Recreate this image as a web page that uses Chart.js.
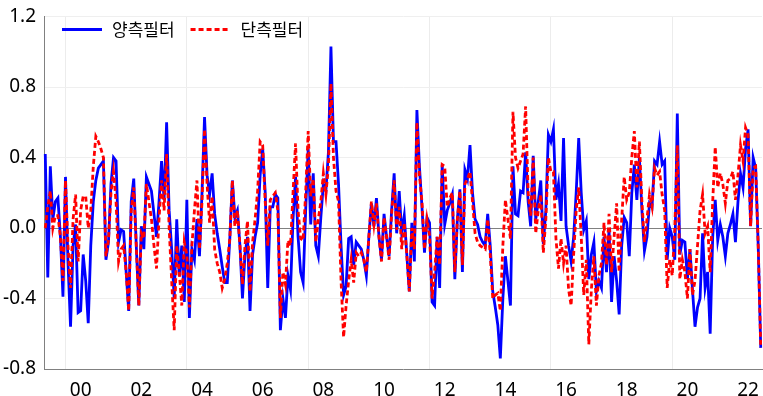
<!DOCTYPE html>
<html>
<head>
<meta charset="utf-8">
<script src="https://cdn.jsdelivr.net/npm/chart.js@4"></script>
<style>
  html, body { margin: 0; padding: 0; background: #fff; }
  #wrap { width: 763px; height: 396px; }
</style>
</head>
<body>
<div id="wrap"><canvas id="chart"></canvas></div>
<script>
// --- Data (monthly, 1999-05 .. 2022-12) ---
const START_YEAR = 1999;
const START_MONTH = 5;

const seriesNames = ['양측필터', '단측필터'];

// two-sided filter (blue, solid)
const twoSided = [
    0.42, -0.28, 0.35, 0.05, 0.15, 0.17, -0.05, -0.39,                       // 1999
    0.29, -0.20, -0.56, -0.10, 0.02, -0.48, -0.47, -0.15, -0.30, -0.54, -0.10, 0.15, // 2000
    0.27, 0.34, 0.36, 0.38, -0.18, -0.08, 0.25, 0.40, 0.38, -0.08, -0.01, -0.02,    // 2001
    -0.25, -0.47, 0.15, 0.28, -0.10, -0.44, 0.01, -0.12, 0.29, 0.25, 0.21, 0.08,    // 2002
    -0.05, 0.15, 0.38, 0.16, 0.60, 0.10, -0.12, -0.40, 0.05, -0.27, -0.10, -0.42,   // 2003
    0.16, -0.51, -0.12, -0.18, 0.05, -0.16, 0.20, 0.63, 0.30, 0.19, 0.31, 0.08,     // 2004
    -0.03, -0.12, -0.22, -0.31, -0.31, -0.06, 0.27, 0.06, 0.10, -0.10, -0.40, -0.15, // 2005
    -0.05, -0.47, -0.15, -0.05, 0.03, 0.30, 0.45, 0.20, -0.34, 0.12, 0.12, 0.19,    // 2006
    0.17, -0.58, -0.40, -0.51, -0.27, -0.35, 0.05, 0.29, -0.05, -0.25, -0.31, 0.10, // 2007
    0.45, 0.02, 0.31, -0.10, -0.16, 0.06, 0.25, 0.21, 0.43, 1.03, 0.49, 0.49,       // 2008
    0.25, -0.10, -0.38, -0.33, -0.06, -0.05, -0.21, -0.08, -0.10, -0.12, -0.18, -0.27, // 2009
    -0.05, 0.14, 0.01, 0.17, -0.05, -0.18, 0.08, -0.05, -0.16, 0.10, 0.31, -0.03,   // 2010
    0.21, -0.03, 0.07, -0.15, -0.36, 0.03, -0.19, 0.67, 0.35, 0.12, -0.14, 0.06,    // 2011
    0.03, -0.42, -0.44, -0.05, -0.34, 0.36, 0.02, 0.10, 0.14, 0.19, -0.29, 0.05,    // 2012
    0.22, -0.25, 0.33, 0.28, 0.47, 0.20, 0.05, 0.02, -0.05, -0.08, -0.10, 0.08,     // 2013
    -0.10, -0.36, -0.45, -0.55, -0.74, -0.40, -0.16, -0.30, -0.44, 0.35, 0.08, 0.07, // 2014
    0.21, 0.20, 0.43, 0.15, 0.01, 0.41, 0.05, 0.15, 0.27, -0.09, 0.10, 0.53,        // 2015
    0.49, 0.56, 0.16, 0.25, 0.04, 0.51, 0.01, -0.10, -0.19, -0.05, 0.20, 0.51,      // 2016
    0.20, -0.01, 0.04, -0.29, -0.15, -0.08, -0.36, -0.30, -0.34, -0.05, -0.25, -0.01, // 2017
    -0.42, -0.16, -0.30, -0.49, -0.10, 0.06, 0.03, -0.16, 0.20, 0.36, 0.16, 0.40,   // 2018
    0.10, -0.13, -0.05, 0.14, 0.12, 0.38, 0.36, 0.49, 0.36, 0.38, -0.18, 0.00,      // 2019
    -0.05, -0.18, 0.65, -0.15, -0.07, -0.08, -0.29, -0.12, -0.35, -0.56, -0.45, -0.40, // 2020
    -0.03, -0.34, -0.25, -0.60, -0.05, 0.16, -0.07, 0.02, -0.05, -0.16, -0.03, 0.02, // 2021
    0.08, -0.08, 0.15, 0.31, 0.23, 0.45, 0.56, 0.01, 0.40, 0.34, -0.10, -0.68       // 2022
];

// one-sided filter (red, dashed)
const oneSided = [
    0.00, 0.12, 0.21, 0.00, 0.07, 0.07, -0.05, -0.30,                       // 1999
    0.27, -0.10, -0.34, 0.05, 0.19, -0.19, 0.10, 0.18, 0.18, 0.00, 0.10, 0.35,      // 2000
    0.52, 0.49, 0.45, 0.40, -0.16, -0.07, 0.20, 0.32, 0.15, -0.19, -0.12, -0.10,    // 2001
    -0.25, -0.47, 0.10, 0.23, -0.10, -0.44, -0.03, -0.06, 0.25, 0.15, 0.05, -0.10,  // 2002
    -0.23, 0.05, 0.27, 0.10, 0.42, 0.00, -0.30, -0.58, -0.10, -0.25, -0.44, -0.08,  // 2003
    -0.15, -0.45, -0.10, 0.10, 0.27, -0.12, 0.15, 0.56, 0.25, 0.03, 0.18, -0.12,    // 2004
    -0.20, -0.25, -0.34, -0.29, -0.20, -0.06, 0.27, 0.01, 0.10, -0.10, -0.32, -0.10, // 2005
    0.04, -0.36, -0.08, 0.05, 0.21, 0.49, 0.47, 0.15, -0.10, 0.16, 0.18, 0.20,      // 2006
    0.10, -0.51, -0.25, -0.32, -0.07, -0.10, 0.20, 0.48, 0.10, -0.06, -0.07, 0.20,  // 2007
    0.55, 0.18, 0.28, -0.08, 0.05, 0.15, 0.31, 0.19, 0.35, 0.82, 0.40, 0.21,        // 2008
    0.15, -0.30, -0.62, -0.44, -0.30, -0.18, -0.31, -0.14, -0.16, -0.14, -0.18, -0.25, // 2009
    -0.05, 0.15, 0.02, 0.14, -0.05, -0.19, 0.06, -0.05, -0.18, 0.08, 0.27, -0.01,   // 2010
    0.12, -0.12, 0.03, -0.15, -0.36, 0.00, -0.12, 0.60, 0.30, 0.15, -0.12, 0.05,    // 2011
    -0.04, -0.40, -0.25, -0.05, -0.21, 0.36, 0.35, 0.12, 0.17, 0.20, -0.25, 0.05,   // 2012
    0.21, -0.21, 0.25, 0.28, 0.32, 0.15, -0.03, -0.08, -0.10, -0.11, -0.12, 0.05,   // 2013
    -0.15, -0.40, -0.38, -0.37, -0.47, -0.10, 0.16, 0.05, -0.06, 0.66, 0.40, 0.34,  // 2014
    0.38, 0.42, 0.69, 0.20, 0.07, 0.40, -0.03, 0.10, 0.19, -0.14, 0.05, 0.40,       // 2015
    0.32, 0.32, -0.06, -0.23, -0.06, -0.20, -0.10, -0.35, -0.44, -0.15, 0.10, 0.23, // 2016
    -0.05, -0.38, -0.18, -0.66, -0.35, -0.16, -0.44, -0.27, -0.20, 0.03, -0.21, 0.08, // 2017
    -0.25, -0.05, 0.14, -0.25, 0.05, 0.29, 0.16, 0.20, 0.40, 0.55, 0.23, 0.49,      // 2018
    0.15, -0.08, 0.05, 0.19, 0.12, 0.34, 0.30, 0.32, 0.19, 0.10, -0.34, -0.18,      // 2019
    -0.27, 0.00, 0.47, -0.29, -0.18, -0.25, -0.40, -0.12, -0.38, -0.30, -0.10, 0.10, // 2020
    0.19, -0.03, 0.01, -0.25, 0.15, 0.46, 0.23, 0.31, 0.25, 0.14, 0.27, 0.28,       // 2021
    0.32, 0.16, 0.30, 0.47, 0.38, 0.57, 0.53, 0.01, 0.34, 0.35, -0.10, -0.68        // 2022
];

const Y_MIN = -0.8, Y_MAX = 1.2, Y_STEP = 0.4;

// month labels 'YYYY-MM'
const months = twoSided.map((_, i) => {
    const m = START_MONTH - 1 + i;
    const y = START_YEAR + Math.floor(m / 12);
    return `${y}-${String(m % 12 + 1).padStart(2, '0')}`;
});

// legend drawn inside the plot, top-left
const insideLegend = {
    id: 'insideLegend',
    afterDraw(chart, args, opts) {
        const { ctx, chartArea } = chart;
        let x = chartArea.left + opts.offsetX;
        const y = chartArea.top + opts.offsetY;
        ctx.save();
        ctx.font = opts.font;
        ctx.textBaseline = 'middle';
        chart.data.datasets.forEach(ds => {
            ctx.beginPath();
            ctx.strokeStyle = ds.borderColor;
            ctx.lineWidth = 3;
            ctx.setLineDash(ds.borderDash || []);
            ctx.moveTo(x, y);
            ctx.lineTo(x + opts.lineLength, y);
            ctx.stroke();
            ctx.setLineDash([]);
            ctx.fillStyle = '#000';
            ctx.fillText(ds.label, x + opts.lineLength + opts.gap, y);
            x += opts.lineLength + opts.gap + ctx.measureText(ds.label).width + opts.spacing;
        });
        ctx.restore();
    }
};

const ctx = document.getElementById('chart').getContext('2d');
new Chart(ctx, {
    type: 'line',
    data: {
        labels: months,
        datasets: [{
            label: seriesNames[0],
            data: twoSided,
            borderColor: '#0000FF',
            borderWidth: 2.8,
            pointRadius: 0,
            tension: 0,
            order: 1
        }, {
            label: seriesNames[1],
            data: oneSided,
            borderColor: '#FF0000',
            borderWidth: 2.8,
            borderDash: [5, 3],
            pointRadius: 0,
            tension: 0,
            order: 0 // red on top
        }]
    },
    options: {
        responsive: true,
        maintainAspectRatio: false,
        animation: false,
        layout: { padding: { top: 9, right: 1, left: 0, bottom: 0 } },
        scales: {
            x: {
                offset: true,
                border: { color: '#808080', width: 1 },
                grid: {
                    drawTicks: true,
                    tickLength: 10,
                    tickColor: 'rgba(0,0,0,0)',
                    color: (c) => {
                        const l = months[c.index];
                        return (l && l.endsWith('-01') && +l.slice(0, 4) % 4 === 0) ? '#ececec' : 'rgba(0,0,0,0)';
                    }
                },
                ticks: {
                    autoSkip: false,
                    maxRotation: 0,
                    padding: 0,
                    color: '#000',
                    font: { family: "'Noto Sans', sans-serif", size: 19 },
                    callback: function (value, index) {
                        const [y, m] = months[index].split('-');
                        return (m === '07' && +y % 2 === 0) ? y.slice(2) : '';
                    }
                },
                afterFit: (scale) => { scale.height = 27; }
            },
            y: {
                min: Y_MIN,
                max: Y_MAX,
                border: { color: '#808080', width: 1 },
                grid: {
                    drawTicks: false,
                    color: (c) => Math.abs(c.tick.value) < 1e-9 ? '#808080' : '#efefef'
                },
                ticks: {
                    stepSize: Y_STEP,
                    padding: 8,
                    color: '#000',
                    font: { family: "'Noto Sans', sans-serif", size: 19, lineHeight: 0.9 },
                    callback: (v) => Math.abs(v) < 1e-9 ? '0.0' : v.toFixed(1)
                },
                afterFit: (scale) => { scale.width = 44; }
            }
        },
        plugins: {
            legend: { display: false },
            tooltip: { enabled: false },
            insideLegend: {
                offsetX: 18,
                offsetY: 13,
                lineLength: 40,
                gap: 10,
                spacing: 16,
                font: "17px 'Noto Sans CJK KR', sans-serif"
            }
        }
    },
    plugins: [insideLegend]
});
</script>
</body>
</html>
